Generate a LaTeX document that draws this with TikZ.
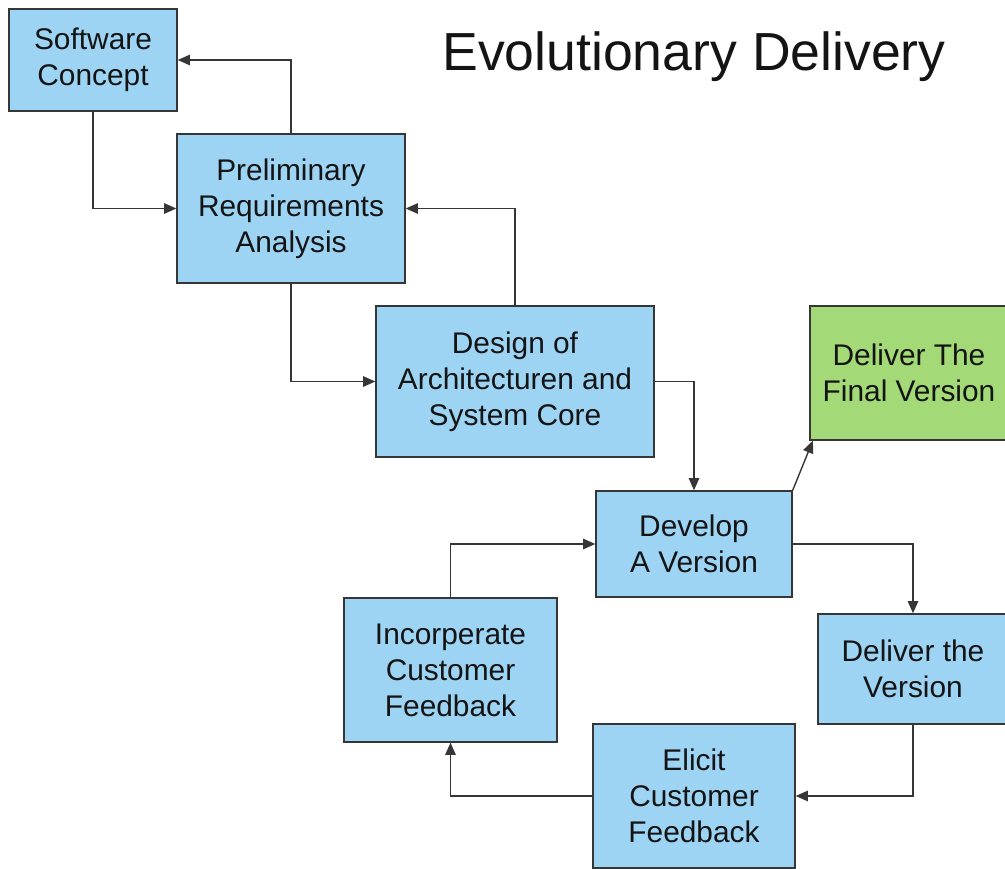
\documentclass[tikz,border=0pt]{standalone}
\usepackage{fontspec}
\setmainfont{Liberation Sans}
\usepackage{xcolor}
\usepackage{tikz}
\usetikzlibrary{arrows.meta,positioning}
\definecolor{skyfill}{HTML}{9DD3F3}
\definecolor{leaf}{HTML}{A3D977}
\definecolor{edge}{HTML}{363636}
\definecolor{ink}{HTML}{141414}
\tikzset{
  stagebox/.style={
    rectangle, draw=edge, fill=#1, line width=0.8pt,
    font=\fontsize{17}{20.5}\selectfont, text=ink, align=center,
    inner sep=2pt
  },
  stagebox/.default=skyfill,
  flowarrow/.style={
    -{Triangle[length=7pt,width=6pt]}, line width=0.8pt, color=#1
  },
  flowarrow/.default=edge,
}

\begin{document}
\begin{tikzpicture}[x=0.02cm,y=-0.02cm]
  \useasboundingbox (0,0) rectangle (1005,869);

  % Title
  \node[font=\fontsize{30.5}{36}\selectfont, text=ink] (title) at (694,57) {Evolutionary Delivery};

  % Up-front stages
  \node[stagebox, minimum width=3.36cm, minimum height=2.04cm] (concept) at (93,60)
    {Software\\Concept};
  \node[stagebox, minimum width=4.56cm, minimum height=2.98cm] (prelim) at (291,208.5)
    {Preliminary\\Requirements\\Analysis};
  \node[stagebox, minimum width=5.56cm, minimum height=3.02cm] (design) at (515,381.5)
    {Design of\\Architecturen and\\System Core};

  % Delivery loop
  \node[stagebox, minimum width=3.92cm, minimum height=2.12cm] (develop) at (694,544)
    {Develop\\A Version};
  \node[stagebox, minimum width=3.80cm, minimum height=2.20cm] (deliver) at (913,669)
    {Deliver the\\Version};
  \node[stagebox, minimum width=4.04cm, minimum height=2.88cm] (elicit) at (694,796)
    {Elicit\\Customer\\Feedback};
  \node[stagebox, minimum width=4.26cm, minimum height=2.88cm] (incorp) at (450.5,670)
    {Incorperate\\Customer\\Feedback};
  \node[stagebox=leaf, minimum width=3.96cm, minimum height=2.68cm] (final) at (909,373)
    {Deliver The\\Final Version};

  % Connectors
  \draw[flowarrow] (prelim.north) |- (concept.east);
  \draw[flowarrow] (concept.south) |- (prelim.west);
  \draw[flowarrow] (design.north) |- (prelim.east);
  \draw[flowarrow] (prelim.south) |- (design.west);
  \draw[flowarrow] (design.east) -| (develop.north);
  \draw[flowarrow] (develop.north east) -- ([xshift=2pt]final.south west);
  \draw[flowarrow] (develop.east) -| (deliver.north);
  \draw[flowarrow] (deliver.south) |- (elicit.east);
  \draw[flowarrow] (elicit.west) -| (incorp.south);
  \draw[flowarrow] (incorp.north) |- (develop.west);
\end{tikzpicture}
\end{document}
